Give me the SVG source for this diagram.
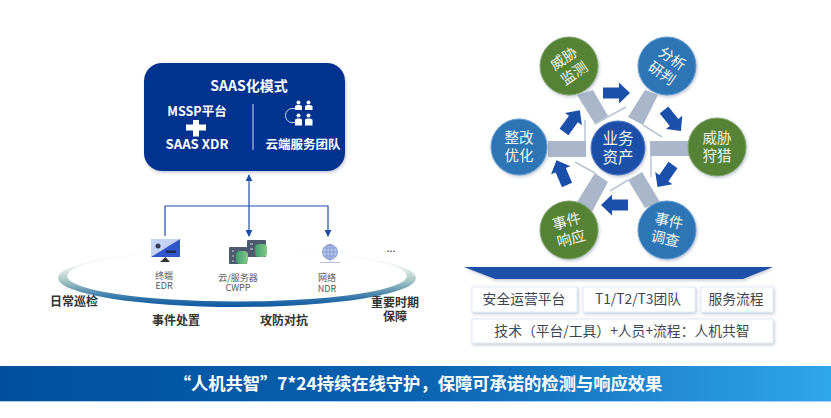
<svg xmlns="http://www.w3.org/2000/svg" width="831" height="418" viewBox="0 0 831 418">
<style>
text{font-family:"Noto Sans CJK SC","Noto Sans",sans-serif;text-anchor:middle}
.w{fill:#fff;font-weight:700;font-size:12.5px}
.lab{fill:#333;font-weight:700;font-size:12px}
.dev{fill:#555;font-size:9px}
.c{fill:#eef5ea;font-size:14.5px}
.box{fill:#fff;stroke:#e3ecf7;stroke-width:1;filter:url(#soft)}
.bt{fill:#3b4652;font-size:13.8px}
.spoke{fill:#aab7ca}
.thin{stroke:#b9c5d6;stroke-width:1.5;fill:none}
.link{fill:none;stroke:#1f4ea6;stroke-width:1.2}
.green{fill:#548235;stroke:#7fa568;stroke-width:1;filter:url(#soft)}
.blue{fill:#2e75b6;stroke:#5f9bd2;stroke-width:1;filter:url(#soft)}
</style>
<defs>
<filter id="soft" x="-20%" y="-20%" width="150%" height="150%"><feDropShadow dx="1" dy="1.5" stdDeviation="1.5" flood-color="#7f8fa6" flood-opacity=".5"/></filter>
<linearGradient id="ring" x1="0" y1="0" x2="0" y2="1"><stop offset="0" stop-color="#fff"/><stop offset=".3" stop-color="#edf4f2"/><stop offset=".55" stop-color="#a5c6c2"/><stop offset=".85" stop-color="#2f74a8"/><stop offset="1" stop-color="#0b57a4"/></linearGradient>
<linearGradient id="band" x1="0" y1="0" x2="1" y2="0"><stop offset="0" stop-color="#004f9c"/><stop offset=".5" stop-color="#0a62b0"/><stop offset="1" stop-color="#30a6ea"/></linearGradient>
<linearGradient id="cyl" x1="0" y1="0" x2="1" y2="0"><stop offset="0" stop-color="#3f9e6c"/><stop offset="1" stop-color="#86c98a"/></linearGradient>
<marker id="tip" viewBox="0 0 8 8" refX="7" refY="4" markerWidth="7" markerHeight="7" markerUnits="userSpaceOnUse" orient="auto-start-reverse"><path d="M0 0L8 4L0 8Z" fill="#1f4ea6"/></marker>
<path id="ar" d="M0-5.5H16V-10.5L27 0L16 10.5V5.5H0Z" fill="#1b50aa"/>
</defs>

<rect width="831" height="418" fill="#fff"/>

<!-- Platform ring -->
<g id="ring-base"><path fill-rule="evenodd" fill="url(#ring)" d="M58 278a179 29 0 1 0 358 0a179 29 0 1 0-358 0ZM67 276a170 25.500 0 1 1 340 0a170 25.500 0 1 1-340 0Z"/></g>

<!-- Connectors -->
<g id="connectors">
<path class="link" marker-end="url(#tip)" d="M249 206V175"/>
<path class="link" marker-end="url(#tip)" d="M165 236V206H328V236"/>
<path class="link" marker-end="url(#tip)" d="M249 206V236"/>
</g>

<g id="saas">
<rect x="144" y="63" width="201" height="108" rx="18" fill="#03318f" filter="url(#soft)"/>
<text class="w" x="249" y="91" style="font-size:14px">SAAS化模式</text>
<text class="w" x="197" y="116">MSSP平台</text>
<path d="M193 120h6v4.500h7v6h-7v6h-6v-6h-7v-6h7Z" fill="#fff"/>
<text class="w" x="197" y="149" style="font-size:13.200px">SAAS XDR</text>
<path d="M253 104V150" stroke="#8fa3cf" stroke-width="1.500"/>
<g fill="#fff">
<circle cx="298.500" cy="102.500" r="2"/><circle cx="308.500" cy="102.500" r="2"/>
<path d="M295 110v-4l2-1h3l2 1v4ZM305 110v-4l2-1h3l2.500 1v4Z"/>
<circle cx="298.500" cy="115.500" r="2"/><circle cx="308.500" cy="115.500" r="2"/>
<path d="M295 125.500v-6l2-1h3l2 1v6ZM305 125.500v-6l2-1h3l2.500 1v6Z"/>
</g>
<path d="M295 108.500h-3a6.500 7 0 0 0 0 14h3" fill="none" stroke="#fff" stroke-width=".8"/>
<text class="w" x="303" y="149">云端服务团队</text>
</g>

<g id="edr">
<path d="M151 239H180L151 257Z" fill="#c5d3f6"/>
<path d="M180 239V257H151Z" fill="#2f57cb"/>
<circle cx="158" cy="246" r="2.500" fill="#333c55"/>
<rect x="166" y="250.500" width="10" height="2.500" fill="#1e2c50"/>
<path d="M165.500 257L170 262H160Z" fill="#333"/>
<text class="dev" x="164" y="279">终端</text>
<text class="dev" x="164" y="289">EDR</text>
</g>

<g id="cwpp">
<rect x="247" y="240" width="19" height="17" rx="1" fill="#4d5a6e"/>
<rect x="229" y="247" width="18" height="17" rx="1" fill="#4d5a6e"/>
<rect x="255" y="244" width="12" height="13" rx="4" fill="url(#cyl)"/>
<rect x="236" y="251" width="12" height="13" rx="4" fill="url(#cyl)"/>
<path d="M250 244h3M250 249h3M232 251h2M232 256h2M232 261h2" stroke="#cfd6e0" stroke-width="1"/>
<text class="dev" x="238" y="281">云/服务器</text>
<text class="dev" x="238" y="291">CWPP</text>
</g>

<g id="ndr">
<circle cx="330" cy="252" r="7.500" fill="#b3c4ec" stroke="#7f93c8" stroke-width=".8"/>
<path d="M322.500 252h15M323.500 248h13M323.500 256h13M330 244.500v15" stroke="#6f84bd" stroke-width=".6"/>
<ellipse cx="330" cy="252" rx="3.500" ry="7.500" fill="none" stroke="#6f84bd" stroke-width=".6"/>
<path d="M320 262.500h20M330 260v2" stroke="#b6bfdb" stroke-width="1"/>
<text class="dev" x="327" y="281">网络</text>
<text class="dev" x="327" y="292">NDR</text>
</g>

<g id="more"><text x="391" y="252" style="font-size:11px;fill:#333">...</text></g>

<g id="ring-labels">
<text class="lab" x="74" y="306">日常巡检</text>
<text class="lab" x="176" y="325">事件处置</text>
<text class="lab" x="284" y="325">攻防对抗</text>
<text class="lab" x="395" y="307">重要时期</text>
<text class="lab" x="395" y="321">保障</text>
</g>

<!-- Spokes of the wheel -->
<g id="spokes">
<path class="spoke" d="M577 95L593 90L608 116L595 124Z"/>
<path class="spoke" d="M645 90L658 95L643 125L628 117Z"/>
<path class="spoke" d="M650 141H693V156H650Z"/>
<path class="spoke" d="M548 141H586V157H548Z"/>
<path class="spoke" d="M595 173L608 182L592 212L577 202Z"/>
<path class="spoke" d="M642 172L628 180L645 208L660 202Z"/>
<path class="thin" d="M595 124L626 107M643 125L662 137M651 156V177M585 141V120M575 162L595 173M610 191L628 180"/>
</g>

<g id="wheel-arrows">
<use href="#ar" transform="translate(603 93)"/>
<use href="#ar" transform="translate(564 132) rotate(-54)"/>
<use href="#ar" transform="translate(664 110) rotate(51)"/>
<use href="#ar" transform="translate(673 165) rotate(125)"/>
<use href="#ar" transform="translate(628 205) rotate(180)"/>
<use href="#ar" transform="translate(567 185) rotate(-113)"/>
</g>

<g id="monitor"><circle class="green" cx="569" cy="66" r="29"/><g transform="rotate(-35 569 66)"><text class="c" x="569" y="62">威胁</text><text class="c" x="569" y="80">监测</text></g></g>
<g id="analyze"><circle class="blue" cx="667" cy="66" r="29"/><g transform="rotate(35 667 66)"><text class="c" x="667" y="62">分析</text><text class="c" x="667" y="80">研判</text></g></g>
<g id="hunt"><circle class="green" cx="717" cy="147" r="29"/><text class="c" x="717" y="143">威胁</text><text class="c" x="717" y="161">狩猎</text></g>
<g id="investigate"><circle class="blue" cx="667" cy="230" r="29"/><g transform="rotate(12 667 230)"><text class="c" x="667" y="226">事件</text><text class="c" x="667" y="244">调查</text></g></g>
<g id="respond"><circle class="green" cx="569" cy="230" r="29"/><g transform="rotate(-15 569 230)"><text class="c" x="569" y="226">事件</text><text class="c" x="569" y="244">响应</text></g></g>
<g id="improve"><circle class="blue" cx="519" cy="147" r="28"/><text class="c" x="519" y="143">整改</text><text class="c" x="519" y="161">优化</text></g>
<g id="assets"><circle cx="618" cy="148" r="27" fill="#1f4fa8" stroke="#4f78c4" filter="url(#soft)"/><text class="c" x="618" y="144" style="font-size:15.500px">业务</text><text class="c" x="618" y="163" style="font-size:15.500px">资产</text></g>

<g id="base"><path d="M464 267H773L743 279H495Z" fill="#1a4fa8" filter="url(#soft)"/></g>

<g id="soc-platform"><rect class="box" x="472" y="287" width="105" height="25"/><text class="bt" x="524" y="304">安全运营平台</text></g>
<g id="team"><rect class="box" x="583" y="287" width="112" height="25"/><text class="bt" x="638" y="304">T1/T2/T3团队</text></g>
<g id="process"><rect class="box" x="701" y="287" width="72" height="25"/><text class="bt" x="736" y="304">服务流程</text></g>
<g id="summary"><rect class="box" x="472" y="319" width="301" height="24"/><text class="bt" x="622" y="336">技术（平台/工具）+人员+流程：人机共智</text></g>

<g id="banner">
<rect x="0" y="366" width="831" height="35" fill="url(#band)"/>
<path d="M0 401.500H831" stroke="#a9cdee" stroke-width="1"/>
<text x="418" y="390" style="fill:#fff;font-weight:700;font-size:17.300px">“人机共智”7*24持续在线守护，保障可承诺的检测与响应效果</text>
</g>
</svg>
